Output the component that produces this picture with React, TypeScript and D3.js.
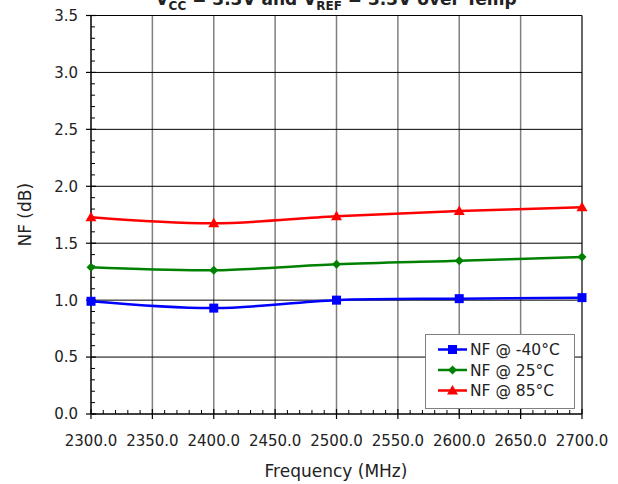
import React from "react";
import * as d3 from "d3";

const freqs = [2300, 2400, 2500, 2600, 2700];
const nfMinus40 = [0.99, 0.93, 1.0, 1.013, 1.022];
const nf25 = [1.289, 1.263, 1.316, 1.346, 1.38];
const nf85 = [1.728, 1.675, 1.737, 1.782, 1.816];
const seriesNames = ["NF @ -40°C", "NF @ 25°C", "NF @ 85°C"];
const seriesColors = ["#0000ff", "#008000", "#ff0000"];
const xTicks = [2300, 2350, 2400, 2450, 2500, 2550, 2600, 2650, 2700];
const yTicks = [0, 0.5, 1.0, 1.5, 2.0, 2.5, 3.0, 3.5];

const W = 618, H = 484;
const L = 91, R = 582, T = 15.5, B = 414;
const FONT = "DejaVu Sans, sans-serif";

function Marker({ kind, x, y, color }: { kind: number; x: number; y: number; color: string }) {
  if (kind === 0) return <rect x={x - 4.5} y={y - 4.5} width={9} height={9} fill={color} />;
  if (kind === 1) return <path d={`M${x},${y - 4.5}L${x + 4.5},${y}L${x},${y + 4.5}L${x - 4.5},${y}Z`} fill={color} />;
  return <path d={`M${x},${y - 5.5}L${x + 5.5},${y + 4}L${x - 5.5},${y + 4}Z`} fill={color} />;
}

export default function App() {
  const x = d3.scaleLinear().domain([2300, 2700]).range([L, R]);
  const y = d3.scaleLinear().domain([0, 3.5]).range([B, T]);
  const data = [nfMinus40, nf25, nf85];
  const line = d3
    .line<[number, number]>()
    .x((d) => x(d[0]))
    .y((d) => y(d[1]))
    .curve(d3.curveCatmullRom.alpha(0.5));
  const xMinor = d3.range(2300, 2701, 10).filter((v) => v % 50 !== 0);
  const yMinor = d3.range(0, 35).map((i) => i / 10).filter((v, i) => i % 5 !== 0);

  return (
    <svg width={W} height={H} style={{ position: "absolute", left: 0, top: 0 }} fontFamily={FONT}>
      <rect width={W} height={H} fill="#fff" />
      {/* grid */}
      {xTicks.slice(1, -1).map((t) => (
        <line key={"gx" + t} x1={x(t)} x2={x(t)} y1={T} y2={B} stroke="#808080" strokeWidth={1.5} />
      ))}
      {yTicks.slice(1).map((t) => (
        <line key={"gy" + t} x1={L} x2={R} y1={y(t)} y2={y(t)} stroke="#000" strokeWidth={1} />
      ))}
      <line x1={R} x2={R} y1={T} y2={B} stroke="#000" strokeWidth={1.2} />
      {/* axes */}
      <line x1={L} x2={L} y1={T} y2={B} stroke="#000" strokeWidth={1.5} />
      <line x1={L} x2={R} y1={B} y2={B} stroke="#000" strokeWidth={1.5} />
      {yTicks.map((t) => (
        <g key={"yt" + t}>
          <line x1={L - 5} x2={L + 5} y1={y(t)} y2={y(t)} stroke="#000" strokeWidth={1.2} />
          <text x={L - 13} y={y(t)} dy="0.36em" textAnchor="end" fontSize={15} fill="#222">
            {t.toFixed(1)}
          </text>
        </g>
      ))}
      {yMinor.map((t) => (
        <line key={"ym" + t} x1={L} x2={L + 4} y1={y(t)} y2={y(t)} stroke="#000" strokeWidth={1} />
      ))}
      {xTicks.map((t) => (
        <g key={"xt" + t}>
          <line x1={x(t)} x2={x(t)} y1={B - 5} y2={B + 5} stroke="#000" strokeWidth={1.2} />
          <text x={x(t)} y={B + 27} dy="0.36em" textAnchor="middle" fontSize={15} fill="#222">
            {t.toFixed(1)}
          </text>
        </g>
      ))}
      {xMinor.map((t) => (
        <line key={"xm" + t} x1={x(t)} x2={x(t)} y1={B} y2={B - 4} stroke="#000" strokeWidth={1} />
      ))}
      {/* series */}
      {data.map((vals, i) => {
        const pts = freqs.map((f, j) => [f, vals[j]] as [number, number]);
        return (
          <g key={"s" + i}>
            <path d={line(pts) || ""} fill="none" stroke={seriesColors[i]} strokeWidth={2.5} />
            {pts.map((p, j) => (
              <Marker key={j} kind={i} x={x(p[0])} y={y(p[1])} color={seriesColors[i]} />
            ))}
          </g>
        );
      })}
      {/* legend */}
      <rect x={425.5} y={334.5} width={149} height={74} fill="#fff" stroke="#808080" strokeWidth={1} />
      {seriesNames.map((n, i) => {
        const ly = 349.5 + i * 20.5;
        return (
          <g key={"lg" + i}>
            <line x1={438} x2={467} y1={ly} y2={ly} stroke={seriesColors[i]} strokeWidth={2.5} />
            <Marker kind={i} x={452.5} y={ly} color={seriesColors[i]} />
            <text x={470} y={ly} dy="0.36em" fontSize={15.5} fill="#222">
              {n}
            </text>
          </g>
        );
      })}
      {/* labels */}
      <text x={336} y={B + 57} dy="0.36em" textAnchor="middle" fontSize={17} fill="#222">
        Frequency (MHz)
      </text>
      <text transform={`translate(25,${(T + B) / 2}) rotate(-90)`} dy="0.36em" textAnchor="middle" fontSize={17} fill="#222">
        NF (dB)
      </text>
      <text x={336} y={5} textAnchor="middle" fontSize={17} fontWeight="bold" fill="#222">
        V<tspan fontSize={12} dy={5}>CC</tspan>
        <tspan dy={-5}> = 3.3V and V</tspan>
        <tspan fontSize={12} dy={5}>REF</tspan>
        <tspan dy={-5}> = 3.3V over Temp</tspan>
      </text>
    </svg>
  );
}
